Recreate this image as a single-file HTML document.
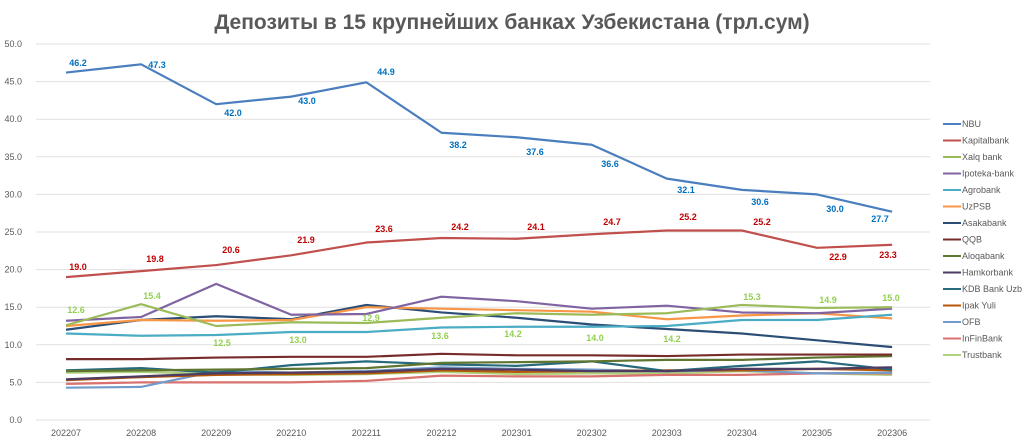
<!DOCTYPE html><html><head><meta charset="utf-8"><style>body{margin:0;background:#fff}svg{display:block;font-family:"Liberation Sans",sans-serif}</style></head><body>
<svg id="c" width="1024" height="444" xmlns="http://www.w3.org/2000/svg">
<rect width="1024" height="444" fill="#fff"/>
<text x="512" y="29" text-anchor="middle" font-size="21" font-weight="bold" fill="#595959">Депозиты в 15 крупнейших банках Узбекистана (трл.сум)</text>
<g id="grid"></g><g id="lines"></g><g id="labs"></g><g id="leg"></g>
</svg>
<script>
const ns="http://www.w3.org/2000/svg";
function el(p,t,a,tx){const e=document.createElementNS(ns,t);for(const k in a)e.setAttribute(k,a[k]);if(tx!=null)e.textContent=tx;document.getElementById(p).appendChild(e);return e;}
const X=i=>66+i*75.1, Y=v=>420-7.52*v;
for(let v=0;v<=50;v+=5){el("grid","line",{x1:36,x2:930,y1:Y(v),y2:Y(v),stroke:"#e0e0e0","stroke-width":1});
el("grid","text",{x:22,y:Y(v)+3,"text-anchor":"end","font-size":9,fill:"#595959"},v.toFixed(1));}
const m=["202207","202208","202209","202210","202211","202212","202301","202302","202303","202304","202305","202306"];
m.forEach((s,i)=>el("grid","text",{x:X(i),y:436,"text-anchor":"middle","font-size":9,fill:"#595959"},s));
const S=[
["NBU","#4a7ebf",[46.2,47.3,42.0,43.0,44.9,38.2,37.6,36.6,32.1,30.6,30.0,27.7]],
["Kapitalbank","#c0504d",[19.0,19.8,20.6,21.9,23.6,24.2,24.1,24.7,25.2,25.2,22.9,23.3]],
["Xalq bank","#9bbb59",[12.6,15.4,12.5,13.0,12.9,13.6,14.2,14.0,14.2,15.3,14.9,15.0]],
["Ipoteka-bank","#8064a2",[13.2,13.7,18.1,14.0,14.1,16.4,15.8,14.8,15.2,14.3,14.2,14.8]],
["Agrobank","#4bacc6",[11.5,11.2,11.3,11.7,11.7,12.3,12.4,12.4,12.5,13.3,13.3,14.0]],
["UzPSB","#f79646",[12.5,13.3,13.2,13.3,15.0,14.8,14.6,14.4,13.4,13.9,14.2,13.5]],
["Asakabank","#2c4d75",[12.0,13.3,13.8,13.4,15.3,14.3,13.6,12.7,12.1,11.5,10.6,9.7]],
["QQB","#772c2a",[8.1,8.1,8.3,8.4,8.4,8.8,8.6,8.6,8.5,8.7,8.7,8.7]],
["Aloqabank","#5f7530",[6.5,6.6,6.7,6.8,6.9,7.6,7.7,7.8,8.0,8.0,8.3,8.5]],
["Hamkorbank","#4d3b62",[5.4,5.8,6.2,6.3,6.4,6.8,6.7,6.5,6.5,6.8,6.8,7.0]],
["KDB Bank Uzb","#276a7c",[6.6,6.9,6.3,7.3,7.8,7.4,7.2,7.8,6.5,7.2,7.8,6.7]],
["Ipak Yuli","#b65708",[5.3,5.7,6.0,6.1,6.2,6.6,6.4,6.5,6.6,6.6,6.8,6.6]],
["OFB","#729aca",[4.3,4.4,6.5,6.3,6.5,7.0,6.8,6.7,6.5,6.6,6.2,6.3]],
["InFinBank","#d9716e",[4.8,5.0,5.0,5.0,5.2,5.9,5.8,5.8,6.0,6.0,6.2,6.2]],
["Trustbank","#afd07d",[6.3,6.4,6.1,6.0,6.1,6.4,6.1,6.2,6.2,6.5,6.2,6.0]]];
for(let k=S.length-1;k>=0;k--){const s=S[k];el("lines","polyline",{points:s[2].map((v,i)=>X(i)+","+Y(v)).join(" "),fill:"none",stroke:s[1],"stroke-width":2.2,"stroke-linejoin":"round"});}
S.forEach((s,k)=>{const y=127+k*16.5;el("leg","line",{x1:943,x2:961,y1:y-3,y2:y-3,stroke:s[1],"stroke-width":2});el("leg","text",{x:962,y:y,"font-size":9,fill:"#595959"},s[0]);});
const L=[["#0070c0",[[78,66],[157,68],[233,116],[307,104],[386,75],[458,148],[535,155],[610,167],[686,193],[760,205],[835,212],[880,222]],S[0][2]],
["#c00000",[[78,270],[155,262],[231,253],[306,243],[384,232],[460,230],[536,230],[612,225],[688,220],[762,225],[838,260],[888,258]],S[1][2]],
["#92d050",[[76,313],[152,299],[222,346],[298,343],[371,321],[440,339],[513,337],[595,341],[672,342],[752,300],[828,303],[891,301]],S[2][2]]];
L.forEach(g=>g[1].forEach((p,i)=>el("labs","text",{x:p[0],y:p[1],"text-anchor":"middle","font-size":9,"font-weight":"bold",fill:g[0]},g[2][i].toFixed(1))));
</script>
</body></html>
